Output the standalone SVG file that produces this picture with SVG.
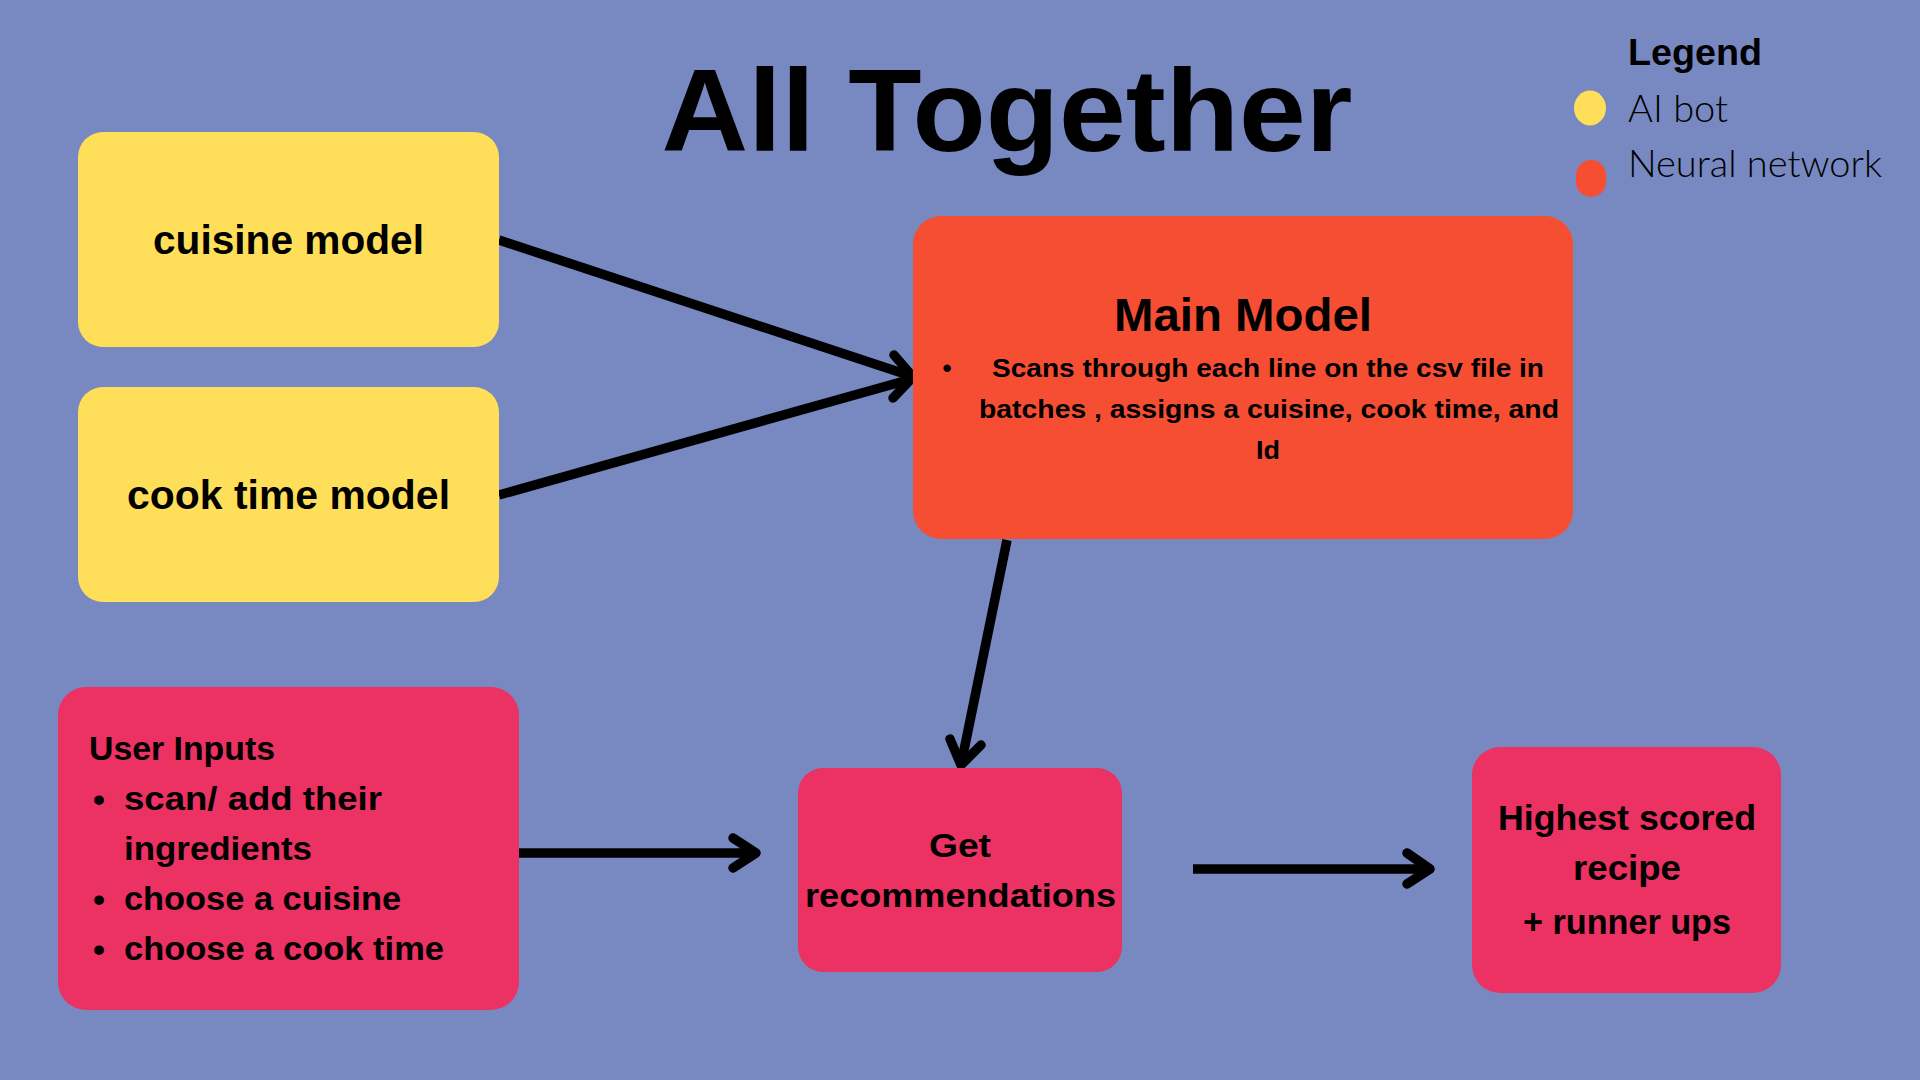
<svg xmlns="http://www.w3.org/2000/svg" width="1920" height="1080" viewBox="0 0 1920 1080">
<style>
.t{font-family:"Liberation Sans",Arial,sans-serif;font-weight:bold;fill:#000}
.l{font-family:"Lato","Liberation Sans",Arial,sans-serif;font-weight:300;fill:#000}
.yel{fill:#FFDE59}
.red{fill:#F54E33}
.pink{fill:#EC3163}
.ln{stroke:#000;stroke-width:9.5;fill:none;stroke-linecap:butt}
.hd{stroke:#000;stroke-width:9.5;fill:none;stroke-linecap:round;stroke-linejoin:round}
</style>
<rect width="1920" height="1080" fill="#7889C2"/>
<text class="t" x="1007" y="151" font-size="116" text-anchor="middle" textLength="691" lengthAdjust="spacingAndGlyphs">All Together</text>
<g id="legend">
<ellipse cx="1590" cy="108" rx="16" ry="17.5" class="yel"/>
<rect x="1576" y="160" width="30" height="37" rx="15" class="red"/>
<text class="t" x="1628" y="65" font-size="37" textLength="134" lengthAdjust="spacingAndGlyphs">Legend</text>
<text class="l" x="1628" y="122" font-size="38" textLength="100" lengthAdjust="spacingAndGlyphs">AI bot</text>
<text class="l" x="1628" y="177" font-size="38" textLength="254" lengthAdjust="spacingAndGlyphs">Neural network</text>
</g>
<g id="connectors">
<line class="ln" x1="499" y1="240" x2="908" y2="375"/>
<line class="ln" x1="499" y1="495" x2="908" y2="380"/>
<polyline class="hd" points="894,355 913,377 893,398"/>
<line class="ln" x1="1007" y1="540" x2="962" y2="760"/>
<polyline class="hd" points="981,745 961,765 950,739"/>
<line class="ln" x1="519" y1="853" x2="752" y2="853"/>
<polyline class="hd" points="733,838 756,853 733,868"/>
<line class="ln" x1="1193" y1="869" x2="1426" y2="869"/>
<polyline class="hd" points="1407,853 1430,869 1407,884"/>
</g>
<g id="cuisine-model">
<rect x="78" y="132" width="421" height="215" rx="25" class="yel"/>
<text class="t" x="288.5" y="254" font-size="41" text-anchor="middle" textLength="271" lengthAdjust="spacingAndGlyphs">cuisine model</text>
</g>
<g id="cook-time-model">
<rect x="78" y="387" width="421" height="215" rx="25" class="yel"/>
<text class="t" x="288.5" y="509" font-size="41" text-anchor="middle" textLength="323" lengthAdjust="spacingAndGlyphs">cook time model</text>
</g>
<g id="main-model">
<rect x="913" y="216" width="660" height="323" rx="28" class="red"/>
<text class="t" x="1243" y="331" font-size="46" text-anchor="middle" textLength="258" lengthAdjust="spacingAndGlyphs">Main Model</text>
<text class="t" x="947" y="377" font-size="26" text-anchor="middle">•</text>
<text class="t" x="1268" y="377" font-size="26" text-anchor="middle" textLength="552" lengthAdjust="spacingAndGlyphs">Scans through each line on the csv file in</text>
<text class="t" x="1269" y="418" font-size="26" text-anchor="middle" textLength="580" lengthAdjust="spacingAndGlyphs">batches , assigns a cuisine, cook time, and</text>
<text class="t" x="1268" y="459" font-size="26" text-anchor="middle" textLength="24" lengthAdjust="spacingAndGlyphs">Id</text>
</g>
<g id="user-inputs">
<rect x="58" y="687" width="461" height="323" rx="28" class="pink"/>
<text class="t" x="89" y="760" font-size="33" textLength="186" lengthAdjust="spacingAndGlyphs">User Inputs</text>
<text class="t" x="99" y="811" font-size="34" text-anchor="middle">•</text>
<text class="t" x="124" y="810" font-size="34" textLength="258" lengthAdjust="spacingAndGlyphs">scan/ add their</text>
<text class="t" x="124" y="860" font-size="34" textLength="188" lengthAdjust="spacingAndGlyphs">ingredients</text>
<text class="t" x="99" y="911" font-size="34" text-anchor="middle">•</text>
<text class="t" x="124" y="910" font-size="34" textLength="277" lengthAdjust="spacingAndGlyphs">choose a cuisine</text>
<text class="t" x="99" y="961" font-size="34" text-anchor="middle">•</text>
<text class="t" x="124" y="960" font-size="34" textLength="320" lengthAdjust="spacingAndGlyphs">choose a cook time</text>
</g>
<g id="get-recommendations">
<rect x="798" y="768" width="324" height="204" rx="25" class="pink"/>
<text class="t" x="960" y="857" font-size="34" text-anchor="middle" textLength="62" lengthAdjust="spacingAndGlyphs">Get</text>
<text class="t" x="960.5" y="907" font-size="34" text-anchor="middle" textLength="311" lengthAdjust="spacingAndGlyphs">recommendations</text>
</g>
<g id="highest-scored">
<rect x="1472" y="747" width="309" height="246" rx="28" class="pink"/>
<text class="t" x="1627" y="830" font-size="35" text-anchor="middle" textLength="258" lengthAdjust="spacingAndGlyphs">Highest scored</text>
<text class="t" x="1627" y="880" font-size="35" text-anchor="middle" textLength="108" lengthAdjust="spacingAndGlyphs">recipe</text>
<text class="t" x="1627" y="934" font-size="35" text-anchor="middle" textLength="208" lengthAdjust="spacingAndGlyphs">+ runner ups</text>
</g>
</svg>
